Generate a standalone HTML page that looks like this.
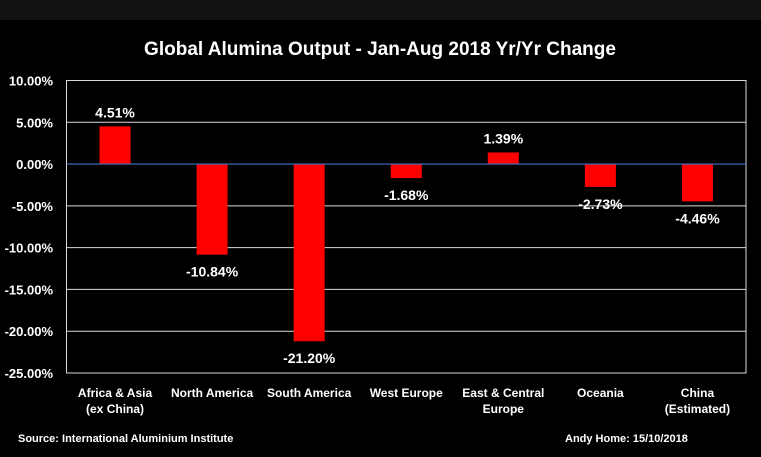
<!DOCTYPE html>
<html><head><meta charset="utf-8"><style>
html,body{margin:0;padding:0;background:#000;}
svg{display:block;font-family:"Liberation Sans",Calibri,sans-serif;font-weight:bold;}
</style></head><body>
<svg width="761" height="457" viewBox="0 0 761 457">
<rect x="0" y="0" width="761" height="20" fill="#111"/>
<text x="380" y="55" fill="#fff" font-size="19" text-anchor="middle">Global Alumina Output - Jan-Aug 2018 Yr/Yr Change</text>
<g id="grid"></g><g id="bars"></g><g id="labels"></g>
<text x="18" y="442" fill="#fff" font-size="11">Source: International Aluminium Institute</text>
<text x="565" y="442" fill="#fff" font-size="11">Andy Home: 15/10/2018</text>
</svg>
<script>
const categories=[["Africa & Asia","(ex China)"],["North America"],["South America"],["West Europe"],["East & Central","Europe"],["Oceania"],["China","(Estimated)"]];
const values=[4.51,-10.84,-21.20,-1.68,1.39,-2.73,-4.46];
const ticks=[10,5,0,-5,-10,-15,-20,-25];
const NS="http://www.w3.org/2000/svg";
const L=66.5,R=746,T=80.5,B=373,ymax=10,ymin=-25;
const y=v=>T+(ymax-v)/(ymax-ymin)*(B-T);
const bw=(R-L)/categories.length;
const x=i=>L+bw*(i+0.5);
function mk(tag,a,p){const e=document.createElementNS(NS,tag);for(const k in a)e.setAttribute(k,a[k]);p.appendChild(e);return e;}
const g=document.getElementById('grid'),b=document.getElementById('bars'),lb=document.getElementById('labels');
ticks.forEach(t=>{
 if(t!==0){const ln=mk('line',{x1:L,x2:R,y1:y(t),y2:y(t),stroke:'#d9d9d9','stroke-width':1},g);
 
 }
 const tx=mk('text',{x:53,y:y(t)+5,fill:'#fff','font-size':13,'text-anchor':'end'},g);
 tx.textContent=t.toFixed(2)+'%';
 
 
});
const fr=mk('rect',{x:L,y:T,width:R-L,height:B-T,fill:'none',stroke:'#d9d9d9','stroke-width':1},g);


values.forEach((v,i)=>{
 const cx=x(i),w=31;
 const r=mk('rect',{x:cx-w/2,y:Math.min(y(v),y(0)),width:w,height:Math.abs(y(v)-y(0)),fill:'#ff0000'},b);
 
 
 const t=mk('text',{x:cx,y:v>=0?y(v)-9:y(v)+22,fill:'#fff','font-size':14,'text-anchor':'middle'},lb);
 t.textContent=v.toFixed(2)+'%';
 
 
 categories[i].forEach((s,j)=>{
  const c=mk('text',{x:cx,y:397+j*16,fill:'#fff','font-size':12,'text-anchor':'middle'},lb);
  c.textContent=s;
  
  
 });
});
const z=mk('line',{x1:L,x2:R,y1:y(0),y2:y(0),stroke:'#4472c4','stroke-width':1.2},b);


</script>
</body></html>
